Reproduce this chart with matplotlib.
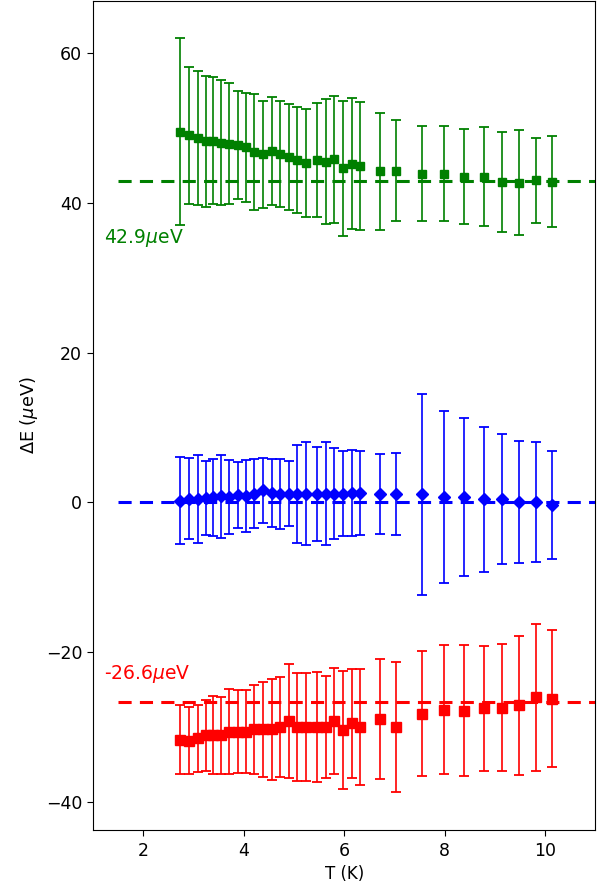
import matplotlib

matplotlib.use("Agg")
import matplotlib.pyplot as plt

# temperatures shared by all three series
T = [2.73, 2.91, 3.08, 3.24, 3.39, 3.55, 3.71, 3.88, 4.05, 4.21, 4.38, 4.56,
     4.72, 4.90, 5.06, 5.24, 5.45, 5.63, 5.80, 5.98, 6.15, 6.32, 6.72, 7.03,
     7.55, 7.99, 8.39, 8.79, 9.15, 9.48, 9.82, 10.14]

green_E = [49.5, 49.0, 48.6, 48.2, 48.3, 48.0, 47.9, 47.7, 47.4, 46.8, 46.5, 46.9,
           46.5, 46.1, 45.7, 45.3, 45.7, 45.5, 45.8, 44.6, 45.2, 44.9, 44.2, 44.3,
           43.9, 43.9, 43.5, 43.5, 42.8, 42.7, 43.0, 42.8]
green_err = [12.45, 9.15, 8.95, 8.75, 8.5, 8.35, 8.1, 7.2, 7.3, 7.75, 7.15, 7.25,
             7.05, 7.05, 7.1, 7.2, 7.65, 8.3, 8.5, 9.0, 8.75, 8.55, 7.8, 6.7,
             6.4, 6.4, 6.3, 6.65, 6.65, 7.0, 5.65, 6.05]

blue_E = [0.2, 0.5, 0.45, 0.6, 0.7, 0.8, 0.7, 1.0, 0.85, 1.15, 1.6, 1.25,
          1.15, 1.15, 1.15, 1.15, 1.15, 1.15, 1.15, 1.15, 1.25, 1.25, 1.15, 1.15,
          1.07, 0.7, 0.7, 0.4, 0.45, 0.05, 0.05, -0.4]
blue_err = [5.8, 5.45, 5.85, 4.95, 5.15, 5.55, 4.95, 4.4, 4.75, 4.6, 4.35, 4.5,
            4.7, 4.35, 6.55, 6.9, 6.25, 6.9, 6.1, 5.65, 5.75, 5.6, 5.35, 5.45,
            13.45, 11.5, 10.55, 9.7, 8.7, 8.1, 7.95, 7.2]

red_E = [-31.7, -31.8, -31.5, -31.1, -31.1, -31.1, -30.6, -30.6, -30.6, -30.3, -30.3, -30.3,
         -30.0, -29.2, -30.0, -30.0, -30.0, -30.0, -29.2, -30.4, -29.5, -30.0, -28.9, -30.0,
         -28.2, -27.7, -27.8, -27.5, -27.4, -27.1, -26.0, -26.2]
red_err = [4.6, 4.45, 4.45, 4.75, 5.2, 5.1, 5.65, 5.55, 5.55, 5.95, 6.35, 6.75,
           6.65, 7.6, 7.25, 7.2, 7.3, 6.85, 7.1, 7.85, 7.3, 7.7, 8.0, 8.65,
           8.3, 8.6, 8.7, 8.35, 8.45, 9.25, 9.8, 9.1]

# fitted levels (dashed lines)
green_level = 42.9
blue_level = 0.0
red_level = -26.6

fig = plt.figure(figsize=(6.05, 8.88), dpi=100)
ax = fig.add_axes([0.1542, 0.0648, 0.8298, 0.9346])

dash = (0, (4.3, 2.7))
for level, col in [(green_level, "g"), (blue_level, "b"), (red_level, "r")]:
    ax.axhline(level, xmin=0.05, color=col, lw=2.2, linestyle=dash)

series = [
    (green_E, green_err, "g", "s", 6.3),
    (blue_E, blue_err, "b", "D", 6.3),
    (red_E, red_err, "r", "s", 6.5),
]
for E, err, col, mk, ms in series:
    ax.errorbar(T, E, yerr=err, fmt=mk, color=col, ms=ms, capsize=3.3,
                elinewidth=1.2, capthick=1.3)

ax.text(1.22, 34.6, f"{green_level}$\\mu$eV", color="g", fontsize=13.5,
        ha="left", va="baseline")
ax.text(1.22, -23.6, f"{red_level}$\\mu$eV", color="r", fontsize=13.5,
        ha="left", va="baseline")

ax.set_xlim(1.0, 11.0)
ax.set_ylim(-43.8, 67.0)
ax.set_xticks([2, 4, 6, 8, 10])
ax.set_yticks([-40, -20, 0, 20, 40, 60])
ax.tick_params(labelsize=12.5, length=4.5)
ax.set_xlabel("T (K)", fontsize=12)
ax.set_ylabel("$\\Delta$E ($\\mu$eV)", fontsize=12.8)

fig.savefig("out.png", dpi=100)
